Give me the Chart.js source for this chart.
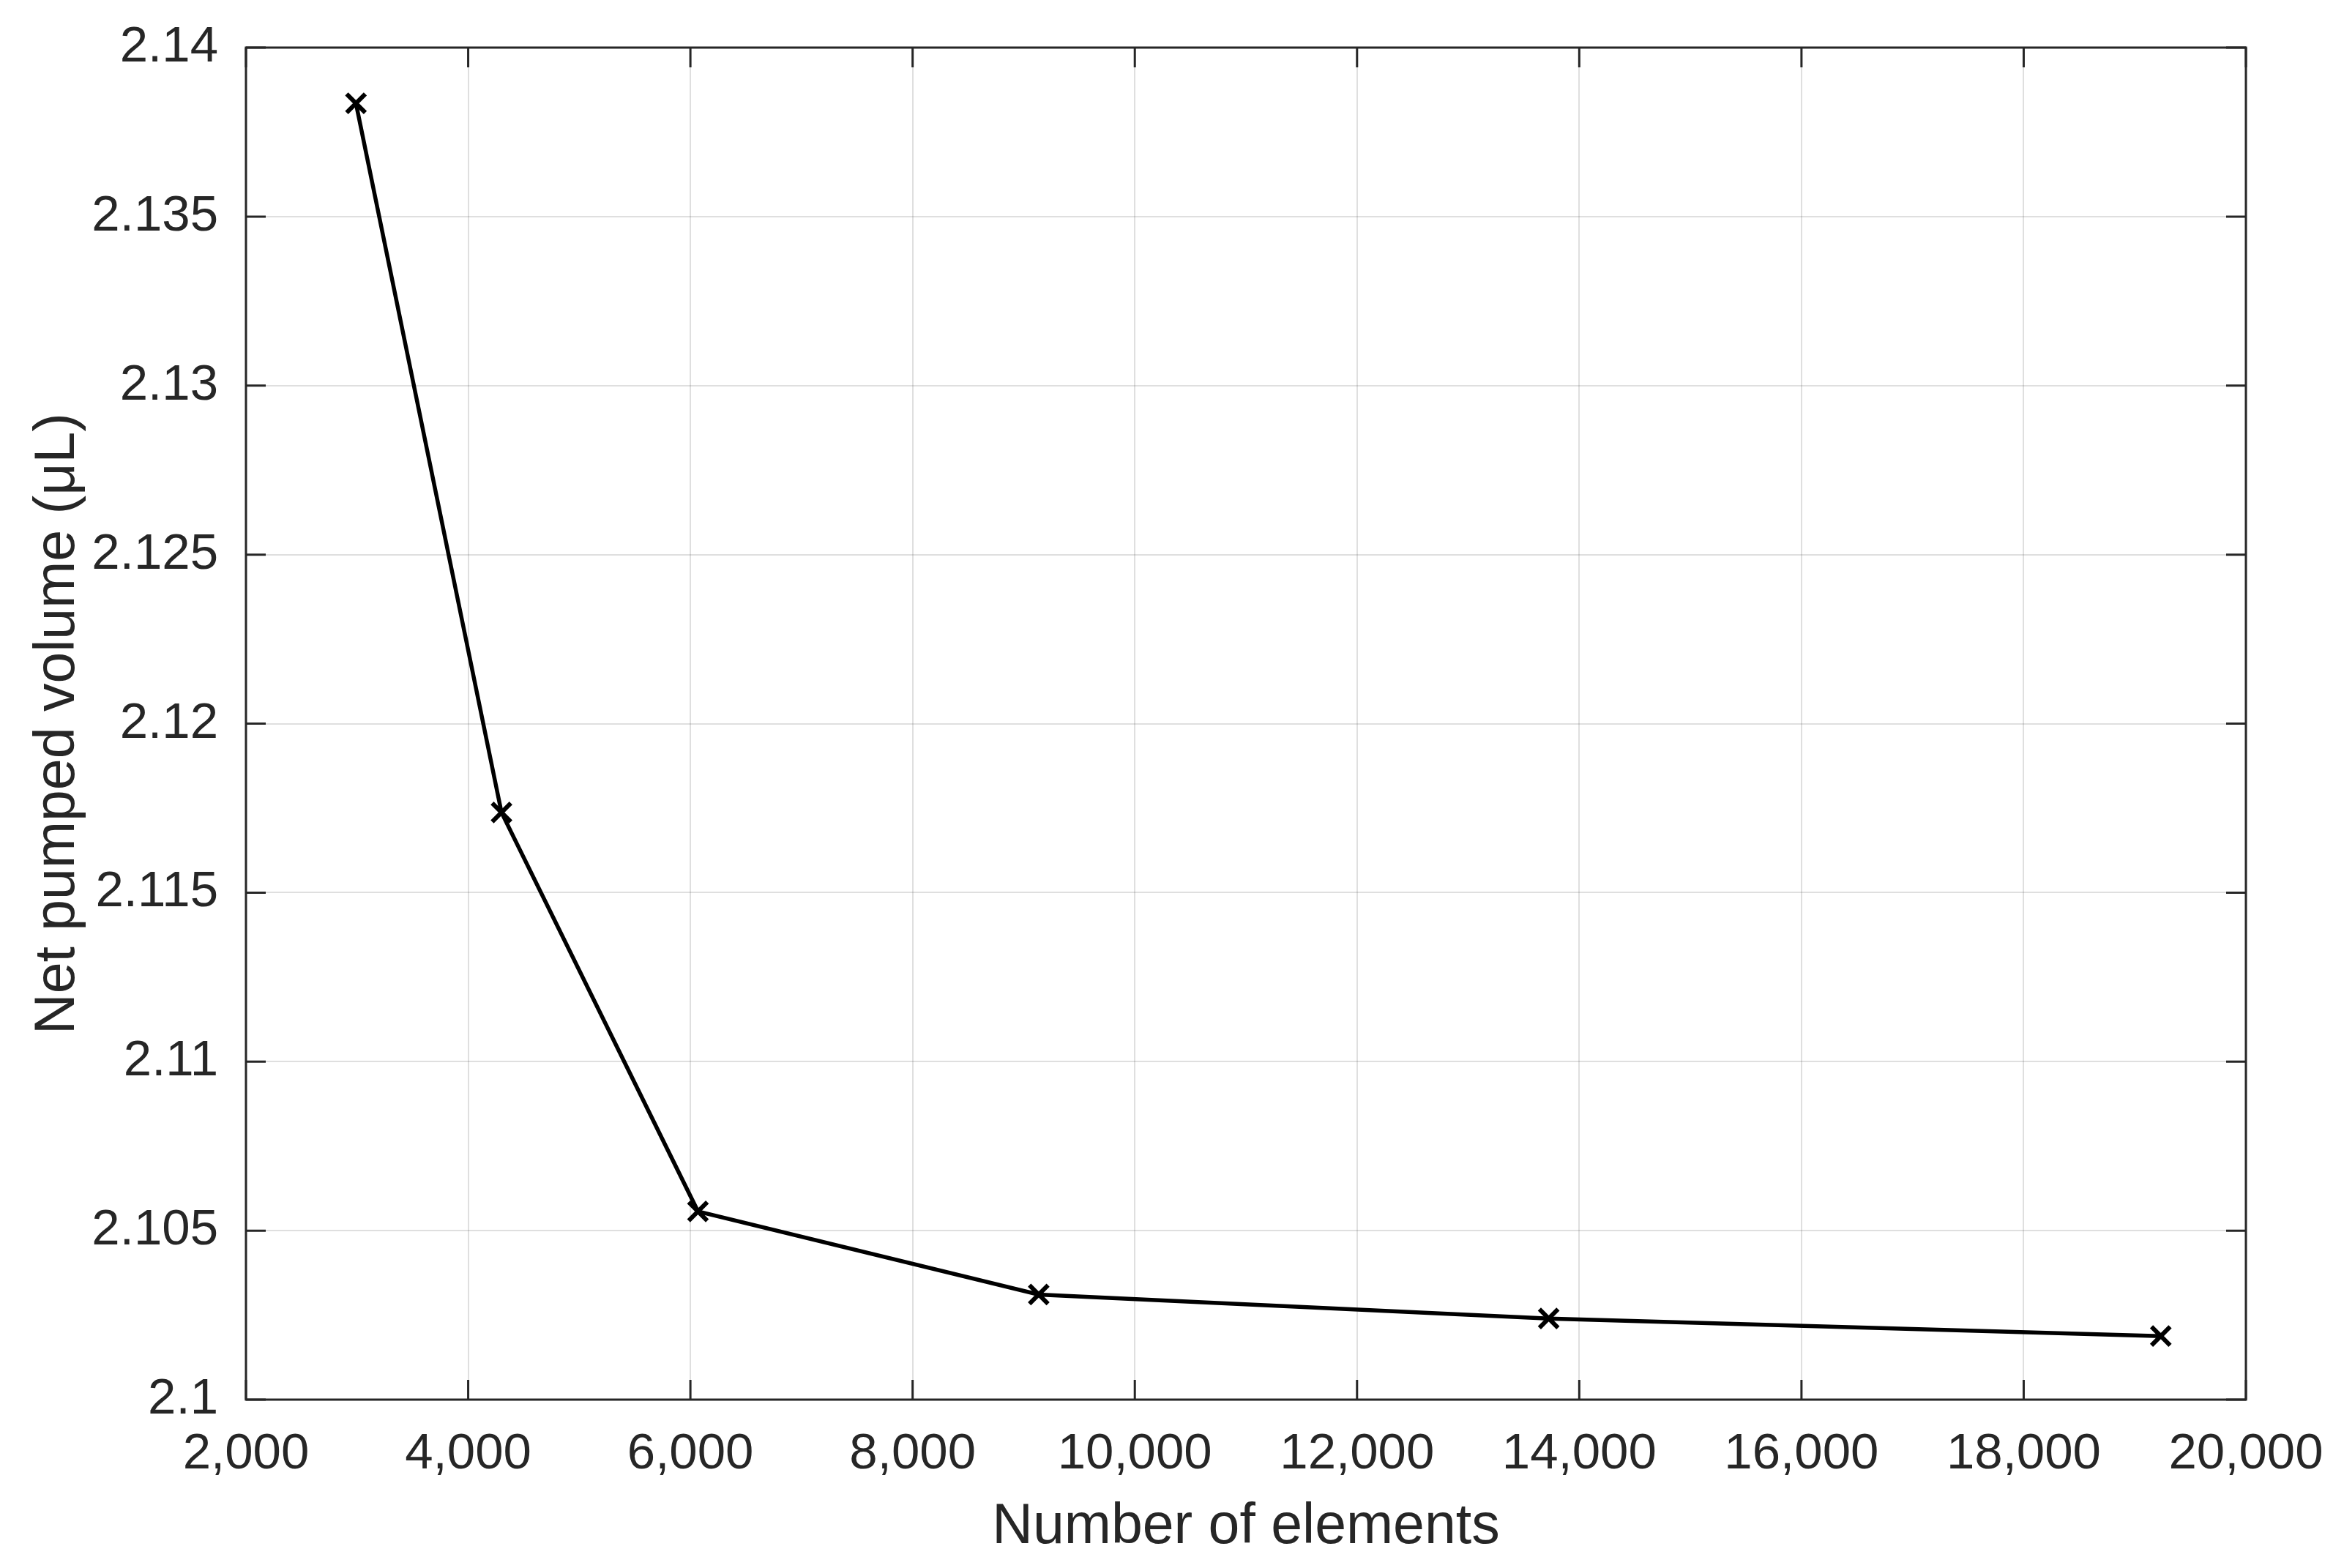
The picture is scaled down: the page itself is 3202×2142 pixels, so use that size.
<!DOCTYPE html>
<html>
<head>
<meta charset="utf-8">
<title>Net pumped volume vs number of elements</title>
<script src="https://cdn.jsdelivr.net/npm/chart.js@4/dist/chart.umd.min.js"></script>
<style>
  html, body { margin: 0; padding: 0; background: #ffffff; }
  #wrap { width: 3202px; height: 2142px; }
</style>
</head>
<body>
<div id="wrap"><canvas id="meshChart" width="3202" height="2142"></canvas></div>
<script>
// ─── Data ────────────────────────────────────────────────────────────────────
const elements = [2990, 4300, 6068, 9135, 13725, 19234];
const netVolume = [2.13835, 2.11737, 2.10557, 2.10311, 2.10240, 2.10188];

const xTicks = [2000, 4000, 6000, 8000, 10000, 12000, 14000, 16000, 18000, 20000];
const yTicks = [2.1, 2.105, 2.11, 2.115, 2.12, 2.125, 2.13, 2.135, 2.14];

const ink = '#262626';

// ─── Box round the axes + inward tick marks (MATLAB style) ──────────────────
const boxPlugin = {
    id: 'boxAxes',
    afterDraw(chart) {
        const { ctx, chartArea: a, scales } = chart;
        const len = 27;
        ctx.save();
        ctx.strokeStyle = ink;
        ctx.lineWidth = 3;
        ctx.beginPath();
        xTicks.forEach(function (v) {
            const px = scales.x.getPixelForValue(v);
            ctx.moveTo(px, a.bottom); ctx.lineTo(px, a.bottom - len);
            ctx.moveTo(px, a.top); ctx.lineTo(px, a.top + len);
        });
        yTicks.forEach(function (v) {
            const py = scales.y.getPixelForValue(v);
            ctx.moveTo(a.left, py); ctx.lineTo(a.left + len, py);
            ctx.moveTo(a.right, py); ctx.lineTo(a.right - len, py);
        });
        ctx.stroke();
        ctx.strokeRect(a.left, a.top, a.right - a.left, a.bottom - a.top);
        ctx.restore();
    }
};

Chart.defaults.font.family = '"Liberation Sans", Arial, Helvetica, sans-serif';
Chart.defaults.color = ink;

new Chart(document.getElementById('meshChart'), {
    type: 'line',
    data: {
        datasets: [{
            label: 'Net pumped volume',
            data: elements.map(function (n, i) { return { x: n, y: netVolume[i] }; }),
            borderColor: '#000000',
            backgroundColor: '#000000',
            borderWidth: 5.5,
            tension: 0,
            fill: false,
            pointStyle: 'crossRot',
            pointRadius: 18,
            pointBorderWidth: 6,
            pointBorderColor: '#000000'
        }]
    },
    options: {
        responsive: false,
        animation: false,
        devicePixelRatio: 1,
        layout: { padding: { top: 65, right: 134, bottom: 0, left: 0 } },
        plugins: { legend: { display: false }, tooltip: { enabled: false } },
        scales: {
            x: {
                type: 'linear',
                min: 2000,
                max: 20000,
                afterBuildTicks: function (s) { s.ticks = xTicks.map(function (v) { return { value: v }; }); },
                afterFit: function (s) {
                    s.height = 2142 - 1912;
                    s.paddingLeft = 0;
                    s.paddingRight = 0;
                },
                ticks: {
                    padding: 34,
                    maxRotation: 0,
                    font: { size: 69 },
                    callback: function (v) { return Number(v).toLocaleString('en-US'); }
                },
                grid: { color: 'rgba(38,38,38,0.15)', lineWidth: 2, drawTicks: false },
                border: { display: false },
                title: {
                    display: true,
                    text: 'Number of elements',
                    font: { size: 77 },
                    padding: { top: 0, bottom: 9 }
                }
            },
            y: {
                type: 'linear',
                min: 2.1,
                max: 2.14,
                afterBuildTicks: function (s) { s.ticks = yTicks.map(function (v) { return { value: v }; }); },
                afterFit: function (s) {
                    s.width = 336;
                    s.paddingTop = 0;
                    s.paddingBottom = 0;
                },
                ticks: {
                    padding: 38,
                    font: { size: 69 },
                    callback: function (v) { return String(Number(Number(v).toFixed(3))); }
                },
                grid: { color: 'rgba(38,38,38,0.15)', lineWidth: 2, drawTicks: false },
                border: { display: false },
                title: {
                    display: true,
                    text: 'Net pumped volume (μL)',
                    font: { size: 77 },
                    padding: { top: 34, bottom: 0 }
                }
            }
        }
    },
    plugins: [boxPlugin]
});
</script>
</body>
</html>
